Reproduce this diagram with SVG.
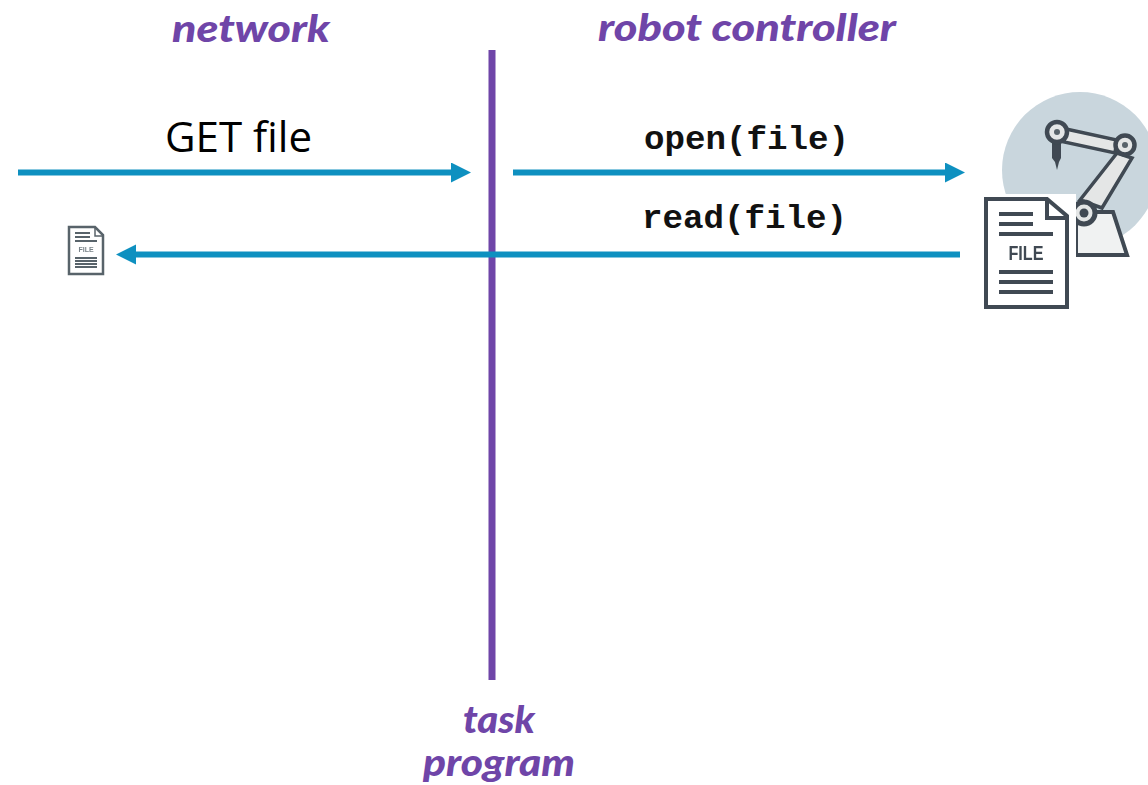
<svg xmlns="http://www.w3.org/2000/svg" width="1148" height="785" viewBox="0 0 1148 785">
<style>
.hand{font-family:"Lato","Open Sans",sans-serif;font-weight:900;font-style:italic;font-size:38px;fill:#6f45a8}
.code{font-family:"Liberation Mono","DejaVu Sans Mono",monospace;font-weight:700;font-size:34px;fill:#111}
.flow{stroke:#0e90c0;stroke-width:6;fill:none}
.ink{stroke:#3f4a52;fill:none}
.arm{fill:#e4e6e6;stroke:#3f4a52;stroke-width:3.500}
</style>
<defs>
<marker id="ah" markerUnits="userSpaceOnUse" markerWidth="22" markerHeight="22" refX="4" refY="10" orient="auto"><path d="M0 0L20 10L0 20Z" fill="#0e90c0"/></marker>
<filter id="soft" x="-5%" y="-5%" width="110%" height="110%"><feGaussianBlur stdDeviation="0.700"/></filter>
</defs>
<rect width="1148" height="785" fill="#fff"/>
<g id="connectors">
<line class="flow" x1="18" y1="172.500" x2="455" y2="172.500" marker-end="url(#ah)"/>
<line class="flow" x1="513" y1="172.500" x2="949" y2="172.500" marker-end="url(#ah)"/>
<line x1="492" y1="50" x2="492" y2="680" stroke="#6f45a8" stroke-width="7"/>
<line class="flow" x1="960" y1="254.500" x2="132" y2="254.500" marker-end="url(#ah)"/>
</g>
<g id="label-network"><text class="hand" x="172" y="42" textLength="158" lengthAdjust="spacingAndGlyphs">network</text></g>
<g id="label-robot-controller"><text class="hand" x="598" y="41" textLength="298" lengthAdjust="spacingAndGlyphs">robot controller</text></g>
<g id="label-task-program">
<text class="hand" x="463" y="733" textLength="72" lengthAdjust="spacingAndGlyphs">task</text>
<text class="hand" x="423" y="776" textLength="152" lengthAdjust="spacingAndGlyphs">program</text>
</g>
<g id="label-get"><text x="165" y="152" font-family="Open Sans, sans-serif" font-size="42" fill="#000" textLength="147" lengthAdjust="spacingAndGlyphs">GET file</text></g>
<g id="label-open"><text class="code" x="644" y="149" textLength="205" lengthAdjust="spacingAndGlyphs">open(file)</text></g>
<g id="label-read"><text class="code" x="642" y="228" textLength="205" lengthAdjust="spacingAndGlyphs">read(file)</text></g>
<g id="robot" filter="url(#soft)">
<circle cx="1080" cy="170" r="78" fill="#c9d6dd"/>
<path d="M1076 255H1127L1113 212H1100L1076 212Z" fill="#f0f2f2" stroke="#3f4a52" stroke-width="4"/>
<path class="arm" d="M1080 200L1117 153L1132 158L1102 208Z"/>
<path class="arm" d="M1066 129L1117 140L1115 153L1064 142Z"/>
<path d="M1052 140H1061V158L1059 162L1057 170L1055 162L1052 158Z" fill="#3f4a52"/>
<circle cx="1057" cy="132" r="10" fill="#e4e6e6" stroke="#3f4a52" stroke-width="4.500"/>
<circle cx="1057" cy="132" r="3" fill="#59636a"/>
<circle cx="1125" cy="145" r="9.500" fill="#e4e6e6" stroke="#3f4a52" stroke-width="4.500"/>
<circle cx="1125" cy="145" r="3" fill="#59636a"/>
<circle cx="1084" cy="213" r="11" fill="#e4e6e6" stroke="#3f4a52" stroke-width="5"/>
<circle cx="1084" cy="213" r="4.500" fill="#3f4a52"/>
</g>
<g id="file-large" filter="url(#soft)">
<rect x="983" y="194" width="93" height="115" fill="#fff"/>
<path class="ink" stroke-width="4" fill="#fff" d="M986 199H1047L1067 216V307H986Z"/>
<path class="ink" stroke-width="4" d="M1047 199V218H1067"/>
<path class="ink" stroke-width="4" d="M999 214H1033M999 224H1033M999 234H1053M999 272H1053M999 282H1053M999 292H1053"/>
<text x="1026" y="260" text-anchor="middle" font-family="Liberation Sans, sans-serif" font-weight="700" font-size="20" fill="#3f4a52" textLength="35" lengthAdjust="spacingAndGlyphs">FILE</text>
</g>
<g id="file-small" filter="url(#soft)">
<path stroke="#59636a" stroke-width="2.500" fill="#fff" d="M69 227H95L103 235V274H69Z"/>
<path stroke="#59636a" stroke-width="1.500" fill="none" d="M95 227V236H103"/>
<path stroke="#59636a" stroke-width="1.800" fill="none" d="M75 233H90M75 237H90M75 241H97M75 258H97M75 261H97M75 264H97M75 267H97"/>
<text x="86" y="252" text-anchor="middle" font-family="Liberation Sans, sans-serif" font-weight="700" font-size="7" fill="#7a848a">FILE</text>
</g>
</svg>
